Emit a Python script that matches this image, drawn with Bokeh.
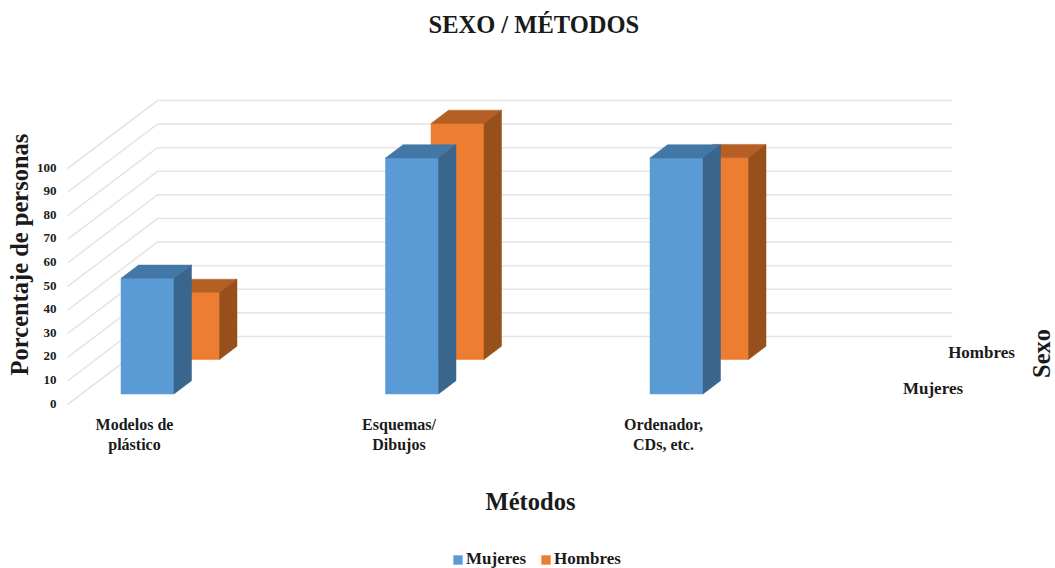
from bokeh.plotting import figure
from bokeh.models import Range1d, LinearAxis, FixedTicker, Legend, LegendItem, Label
from bokeh.embed import file_html
from bokeh.resources import INLINE

# ---- data -------------------------------------------------------------
categories = ["Modelos de\nplástico", "Esquemas/\nDibujos", "Ordenador,\nCDs, etc."]
mujeres = [49, 100, 100]
hombres = [28.4, 100, 85.5]
y_ticks = [0, 10, 20, 30, 40, 50, 60, 70, 80, 90, 100]
series_names = ["Mujeres", "Hombres"]

# ---- style ------------------------------------------------------------
FONT = "Liberation Serif"
TXT = "#1a1a1a"
BLUE = ("#5B9BD5", "#4377A6", "#3A658C")
ORANGE = ("#ED7D31", "#B55F25", "#974F1B")
GRID = "#E6E6E6"

PX_X = 264.5      # pixels per category
PX_Y = 2.36       # pixels per percent
L, R, T, B = 66, 1055, 98, 568   # frame edges on the page
ZERO_X, ZERO_Y = 134, 393.5      # page position of first category / Mujeres zero

ux = lambda px: px / PX_X
uy = lambda px: px / PX_Y
sy = lambda page_y: uy(ZERO_Y - page_y)

p = figure(frame_width=R - L, frame_height=B - T, width=1055, height=568,
           min_border_left=L, min_border_right=0,
           min_border_top=T, min_border_bottom=0,
           x_range=Range1d(ux(L - ZERO_X), ux(R - ZERO_X)),
           y_range=Range1d(sy(B), sy(T)),
           output_backend="svg", toolbar_location=None, tools="",
           x_axis_location=None, y_axis_location=None,
           title="SEXO / MÉTODOS")
p.outline_line_color = None
p.xgrid.visible = False
p.ygrid.visible = False
p.background_fill_color = "white"
p.border_fill_color = "white"

p.title.text_font = FONT
p.title.text_font_size = "24.5px"
p.title.text_font_style = "bold"
p.title.text_color = TXT
p.title.align = "left"
p.title.offset = 428 - L
p.title.standoff = 0

def bare(ax):
    ax.axis_line_color = None
    ax.major_tick_line_color = None
    ax.minor_tick_line_color = None
    ax.major_tick_out = 0
    ax.major_tick_in = 0
    ax.minor_tick_out = 0
    ax.minor_tick_in = 0

# spacer between the title and the plot area
spacer = LinearAxis(ticker=FixedTicker(ticks=[]), axis_label=" ",
                    axis_label_text_font_size="10px", axis_label_standoff=47)
bare(spacer)
p.add_layout(spacer, "above")

# ---- walls: gridlines on the back wall + diagonals on the side wall ----
FRONT_DY, BACK_DY = uy(-10.5), uy(57.5)
LEFT_X, CORNER_X, END_X = ux(67 - ZERO_X), ux(157 - ZERO_X), ux(952 - ZERO_X)
for v in y_ticks:
    p.line([LEFT_X, CORNER_X, END_X], [v + FRONT_DY, v + BACK_DY, v + BACK_DY],
           line_color=GRID, line_width=1.6)

# ---- 3-D bars ---------------------------------------------------------
BAR_W = ux(53)
DEPTH_X, DEPTH_Y = ux(17.5), uy(13.3)
ROW_X, ROW_Y = ux(45.5), uy(34.5)
START = ux(-13.5)

def draw_series(values, colors, row, name):
    x0 = [i + START + row * ROW_X for i in range(len(values))]
    x1 = [a + BAR_W for a in x0]
    base = row * ROW_Y
    y0 = [base] * len(values)
    y1 = [v + base for v in values]
    front = p.quad(left=x0, right=x1, bottom=y0, top=y1, fill_color=colors[0],
                   line_color=colors[0], line_width=0.5, name=name)
    top_x = [[a, b, b + DEPTH_X, a + DEPTH_X] for a, b in zip(x0, x1)]
    top_y = [[t, t, t + DEPTH_Y, t + DEPTH_Y] for t in y1]
    p.patches(top_x, top_y, fill_color=colors[1], line_color=colors[1], line_width=0.5)
    side_x = [[b, b + DEPTH_X, b + DEPTH_X, b] for b in x1]
    side_y = [[base, base + DEPTH_Y, t + DEPTH_Y, t] for t in y1]
    p.patches(side_x, side_y, fill_color=colors[2], line_color=colors[2], line_width=0.5)
    return front

r_h = draw_series(hombres, ORANGE, 1, "Hombres")
r_m = draw_series(mujeres, BLUE, 0, "Mujeres")

# ---- axes -------------------------------------------------------------
xax = LinearAxis(ticker=FixedTicker(ticks=list(range(len(categories)))),
                 fixed_location=sy(410))
xax.major_label_overrides = {i: c for i, c in enumerate(categories)}
xax.major_label_text_font = FONT
xax.major_label_text_font_size = "16px"
xax.major_label_text_font_style = "bold"
xax.major_label_text_color = TXT
xax.major_label_standoff = 5
bare(xax)
p.add_layout(xax, "below")

# axis title, drawn as the only label of a second lower axis so it can sit left of centre
title_tick = round(ux(530 - ZERO_X), 4)
xax2 = LinearAxis(ticker=FixedTicker(ticks=[title_tick]), fixed_location=sy(480))
xax2.major_label_overrides = {title_tick: "Métodos"}
xax2.major_label_text_font = FONT
xax2.major_label_text_font_size = "24.5px"
xax2.major_label_text_font_style = "bold"
xax2.major_label_text_color = TXT
xax2.major_label_standoff = 7
bare(xax2)
p.add_layout(xax2, "below")

p.extra_y_ranges = {"tick": Range1d((403 - B) / PX_Y, (403 - T) / PX_Y)}
yax = LinearAxis(y_range_name="tick", ticker=FixedTicker(ticks=y_ticks))
yax.major_label_text_font = FONT
yax.major_label_text_font_size = "13px"
yax.major_label_text_font_style = "bold"
yax.major_label_text_color = TXT
yax.major_label_standoff = 10
bare(yax)
p.add_layout(yax, "left")

ylabel_tick = round((403 - 254) / PX_Y, 4)
yax2 = LinearAxis(y_range_name="tick", ticker=FixedTicker(ticks=[ylabel_tick]))
yax2.major_label_overrides = {ylabel_tick: "Porcentaje de personas"}
yax2.major_label_orientation = "vertical"
yax2.major_label_text_font = FONT
yax2.major_label_text_font_size = "24.5px"
yax2.major_label_text_font_style = "bold"
yax2.major_label_text_color = TXT
yax2.major_label_standoff = 0
bare(yax2)
p.add_layout(yax2, "left")

# ---- depth axis labels ------------------------------------------------
def lab(text, sx, page_y, size, angle=0.0):
    p.add_layout(Label(x=ux(sx - ZERO_X), y=sy(page_y), text=text,
                       text_font=FONT, text_font_size=size, text_font_style="bold",
                       text_color=TXT, text_align="center", text_baseline="middle",
                       angle=angle))

lab(series_names[0], 932.5, 388, "17px")
lab(series_names[1], 981, 352, "17px")
lab("Sexo", 1041, 353, "24.5px", angle=1.5708)

# ---- legend -----------------------------------------------------------
legend = Legend(items=[LegendItem(label=series_names[0], renderers=[r_m]),
                       LegendItem(label=series_names[1], renderers=[r_h])],
                orientation="horizontal", location=(452 - L, -1),
                label_text_font=FONT, label_text_font_size="17px",
                label_text_font_style="bold", label_text_color=TXT,
                glyph_width=11, glyph_height=11, label_standoff=3, spacing=14,
                padding=0, margin=0, border_line_color=None,
                background_fill_alpha=0, label_height=14)
p.add_layout(legend, "center")

open("out.html", "w").write(file_html(p, INLINE))
